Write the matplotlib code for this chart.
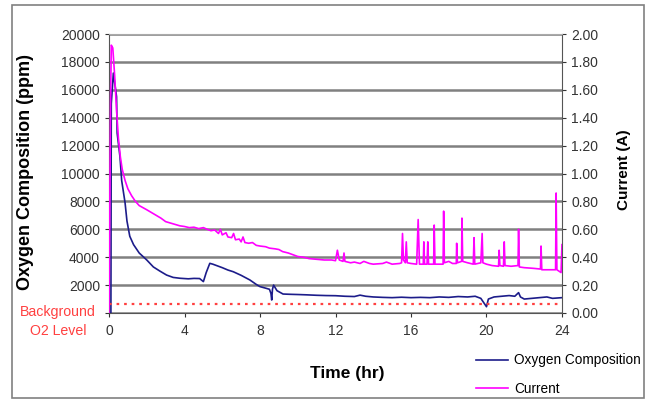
import matplotlib
matplotlib.use('Agg')
import matplotlib.pyplot as plt
from matplotlib.patches import Rectangle

plt.rcParams['font.family'] = ['Liberation Sans', 'DejaVu Sans']

# oxygen composition (ppm) vs time (hr)
time_o2 = [0.0, 0.1, 0.12, 0.23, 0.4, 0.43, 0.58, 0.67, 0.85, 0.95, 1.1, 1.3, 1.6, 2.0,
           2.35, 2.7, 3.05, 3.4, 3.76, 4.2, 4.5, 4.8, 5.0, 5.15, 5.34, 5.5, 5.7, 6.0,
           6.3, 6.58, 7.0, 7.46, 7.8, 8.0, 8.3, 8.5, 8.58, 8.62, 8.66, 8.72, 8.9, 9.22,
           9.6, 10.1, 10.5, 11.0, 11.5, 12.0, 12.5, 13.0, 13.3, 13.6, 14.0, 14.5, 15.0,
           15.5, 16.0, 16.5, 17.0, 17.5, 18.0, 18.5, 19.0, 19.4, 19.7, 20.0, 20.1, 20.4,
           20.8, 21.2, 21.5, 21.7, 21.8, 22.0, 22.4, 22.8, 23.2, 23.5, 24.0]
oxygen = [0, 0, 15000, 17200, 15500, 12900, 11200, 9500, 7900, 6600, 5500, 4900, 4300, 3800,
          3300, 3000, 2720, 2550, 2490, 2450, 2480, 2470, 2250, 2900, 3560, 3500, 3400, 3250,
          3080, 2960, 2700, 2370, 2050, 1890, 1780, 1700, 1400, 930, 1700, 2000, 1600, 1360,
          1340, 1320, 1300, 1270, 1250, 1240, 1200, 1180, 1280, 1200, 1150, 1120, 1100,
          1130, 1100, 1120, 1100, 1150, 1120, 1180, 1150, 1200, 1050, 450, 1000, 1150,
          1200, 1250, 1200, 1460, 1150, 1000, 1050, 1100, 1150, 1050, 1100]

# current (A) vs time (hr)
time_cur = [0.0, 0.08, 0.12, 0.2, 0.3, 0.4, 0.5, 0.6, 0.7, 0.85, 1.0, 1.2, 1.4, 1.6, 1.8,
            2.0, 2.25, 2.5, 2.75, 3.0, 3.25, 3.5, 3.75, 4.0, 4.25, 4.5, 4.75, 5.0, 5.2,
            5.4, 5.6, 5.8, 5.9, 6.0, 6.2, 6.3, 6.5, 6.6, 6.7, 6.9, 7.0, 7.1, 7.2, 7.4,
            7.6, 7.8, 8.0, 8.3, 8.5, 8.8, 9.0, 9.2, 9.5, 9.8, 10.0, 10.3, 10.6, 11.0,
            11.4, 11.8, 12.0, 12.1, 12.2, 12.4, 12.45, 12.5, 12.8, 13.0, 13.3, 13.5, 13.8,
            14.0, 14.5, 14.7, 15.0, 15.4, 15.5, 15.55, 15.6, 15.7, 15.75, 15.8, 16.0, 16.3,
            16.38, 16.45, 16.65, 16.68, 16.72, 16.85, 16.89, 16.93, 17.2, 17.23, 17.27,
            17.5, 17.7, 17.73, 17.77, 18.0, 18.2, 18.4, 18.42, 18.46, 18.68, 18.7, 18.74,
            19.0, 19.3, 19.34, 19.38, 19.7, 19.77, 19.81, 20.0, 20.3, 20.64, 20.67, 20.71,
            20.9, 20.94, 20.98, 21.3, 21.67, 21.7, 21.74, 22.0, 22.5, 22.86, 22.89, 22.93,
            23.3, 23.66, 23.69, 23.73, 23.95, 24.0]
current = [0.0, 1.50, 1.92, 1.90, 1.70, 1.45, 1.25, 1.12, 1.03, 0.95, 0.89, 0.84, 0.80, 0.77, 0.755,
           0.74, 0.72, 0.70, 0.68, 0.655, 0.645, 0.635, 0.625, 0.62, 0.612, 0.615, 0.605, 0.612, 0.60,
           0.59, 0.595, 0.57, 0.60, 0.56, 0.575, 0.545, 0.54, 0.57, 0.525, 0.53, 0.51, 0.545, 0.505, 0.50,
           0.505, 0.485, 0.48, 0.475, 0.465, 0.46, 0.455, 0.44, 0.43, 0.415, 0.405, 0.40, 0.39, 0.385,
           0.38, 0.38, 0.375, 0.45, 0.38, 0.37, 0.43, 0.37, 0.36, 0.365, 0.355, 0.37, 0.355,
           0.35, 0.355, 0.365, 0.35, 0.355, 0.36, 0.57, 0.38, 0.36, 0.51, 0.36, 0.355, 0.35,
           0.67, 0.35, 0.35, 0.51, 0.35, 0.35, 0.51, 0.35, 0.35, 0.63, 0.35,
           0.35, 0.35, 0.73, 0.36, 0.37, 0.355, 0.355, 0.50, 0.36, 0.37, 0.68, 0.37,
           0.36, 0.35, 0.54, 0.35, 0.36, 0.57, 0.36, 0.35, 0.34, 0.335, 0.45, 0.34,
           0.335, 0.51, 0.34, 0.335, 0.34, 0.60, 0.33, 0.325, 0.32, 0.315, 0.48, 0.31,
           0.31, 0.31, 0.86, 0.31, 0.29, 0.49]

background = 650
o2_ticks = list(range(0, 20001, 2000))

fig = plt.figure(figsize=(6.47, 4.0), dpi=100)
ax = fig.add_axes([0.1685, 0.2175, 0.7001, 0.6975])

ax.plot(time_o2, oxygen, color='#1c1c8a', lw=1.2, label='Oxygen Composition')
ax.axhline(background, color='#ff4040', lw=1.6, ls=(0, (1.2, 2.2)))
ax.set_xlim(0, 24)
ax.set_ylim(0, 20000)
ax.set_xticks([0, 4, 8, 12, 16, 20, 24])
ax.set_yticks(o2_ticks)
# the 0 label is replaced by the background note
ax.set_yticklabels([''] + [str(v) for v in o2_ticks[1:]])
ax.yaxis.grid(True, color='#808080', lw=1.8)
ax.set_axisbelow(True)
ax.spines['top'].set_visible(False)
ax.spines['left'].set_color('#555555')
ax.spines['bottom'].set_color('#555555')
ax.spines['right'].set_visible(False)
ax.tick_params(labelsize=10, colors='#333333', length=3)
ax.tick_params(axis='x', pad=5)

ax2 = ax.twinx()
ax2.plot(time_cur, current, color='#ff00ff', lw=1.2, label='Current')
ax2.set_ylim(0, 2.0)
ax2.set_yticks([i * 0.2 for i in range(11)])
ax2.set_yticklabels(['%.2f' % (i * 0.2) for i in range(11)])
ax2.tick_params(labelsize=10, colors='#333333', length=3)
ax2.spines['right'].set_color('#555555')
ax2.spines['top'].set_color('#aaaaaa')
ax2.spines['left'].set_visible(False)
ax2.spines['bottom'].set_visible(False)

fig.text(0.04, 0.57, 'Oxygen Composition (ppm)', rotation=90, ha='center', va='center',
         fontsize=13, fontweight='bold')
fig.text(0.965, 0.575, 'Current (A)', rotation=90, ha='center', va='center',
         fontsize=11, fontweight='bold')
fig.text(0.536, 0.067, 'Time (hr)', ha='center', va='center', fontsize=12.5, fontweight='bold')
fig.text(0.09, 0.197, 'Background\nO2 Level', ha='center', va='center', fontsize=10.2,
         color='#ff4040', linespacing=1.45)

h1, l1 = ax.get_legend_handles_labels()
h2, l2 = ax2.get_legend_handles_labels()
fig.legend(h1 + h2, l1 + l2, loc='upper left', bbox_to_anchor=(0.728, 0.13),
           frameon=False, fontsize=9.8, handlelength=2.3, handletextpad=0.45,
           labelspacing=1.05, borderaxespad=0)

fig.patches.append(Rectangle((0.018, 0.004), 0.978, 0.983, transform=fig.transFigure,
                             fill=False, edgecolor='#808080', lw=1.2))

plt.savefig('out.png', dpi=100)
